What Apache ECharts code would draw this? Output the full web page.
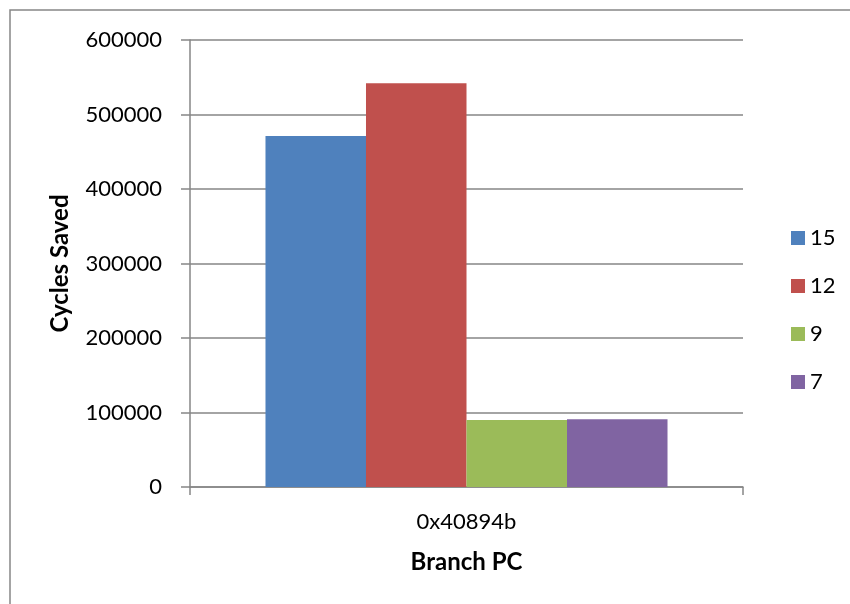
<!DOCTYPE html>
<html>
<head>
<meta charset="utf-8">
<script src="https://cdn.jsdelivr.net/npm/echarts@6/dist/echarts.min.js"></script>
<style>
  html, body { margin: 0; padding: 0; background: #fff; }
  #chart { width: 850px; height: 604px; }
</style>
</head>
<body>
<div id="chart"></div>
<script>
// Branch PC categories
const categories = ['0x40894b'];
// Cycles saved per configuration
const seriesNames = ['15', '12', '9', '7'];
const values15 = [471000];
const values12 = [542000];
const values9 = [90000];
const values7 = [91000];
const seriesColors = ['#4F81BD', '#C0504D', '#9BBB59', '#8064A2'];

const FONT = 'Lato';
const gray = '#868686';

const chart = echarts.init(document.getElementById('chart'), null, { renderer: 'canvas' });

const seriesValues = [values15, values12, values9, values7];

chart.setOption({
  animation: false,
  backgroundColor: '#ffffff',
  graphic: [{
    type: 'rect',
    shape: { x: 10, y: 10, width: 900, height: 700 },
    style: { fill: 'none', stroke: gray, lineWidth: 1.5 },
    silent: true
  }],
  grid: { left: 190, right: 107, top: 40, bottom: 117, containLabel: false },
  legend: {
    orient: 'vertical',
    left: 786,
    top: 221,
    icon: 'rect',
    itemWidth: 14,
    itemHeight: 14,
    itemGap: 24,
    textStyle: { fontFamily: FONT, fontSize: 22, color: '#000', lineHeight: 24, padding: [0, 0, 0, 0] },
    data: seriesNames
  },
  xAxis: {
    type: 'category',
    data: categories,
    name: 'Branch PC',
    nameLocation: 'middle',
    nameGap: 63,
    nameTextStyle: { fontFamily: FONT, fontSize: 24, fontWeight: 'bold', color: '#000' },
    axisLine: { lineStyle: { color: gray, width: 1.5 } },
    axisTick: { show: true, length: 8, inside: false, lineStyle: { color: gray, width: 1.5 } },
    axisLabel: { fontFamily: FONT, fontSize: 22, color: '#000', margin: 24 },
    splitLine: { show: false }
  },
  yAxis: {
    type: 'value',
    min: 0,
    max: 600000,
    interval: 100000,
    name: 'Cycles Saved',
    nameLocation: 'middle',
    nameGap: 118,
    nameRotate: 90,
    nameTextStyle: { fontFamily: FONT, fontSize: 24, fontWeight: 'bold', color: '#000' },
    axisLine: { show: true, lineStyle: { color: gray, width: 1.5 } },
    axisTick: { show: true, length: 9, inside: false, lineStyle: { color: gray, width: 1.5 } },
    axisLabel: { fontFamily: FONT, fontSize: 22, color: '#000', margin: 28, formatter: (v) => String(v) },
    splitLine: { show: true, lineStyle: { color: gray, width: 1.5 } }
  },
  series: seriesNames.map((name, i) => ({
    name: name,
    type: 'bar',
    data: seriesValues[i],
    barGap: '0%',
    barCategoryGap: '27.3%',
    itemStyle: { color: seriesColors[i] }
  }))
});
</script>
</body>
</html>
